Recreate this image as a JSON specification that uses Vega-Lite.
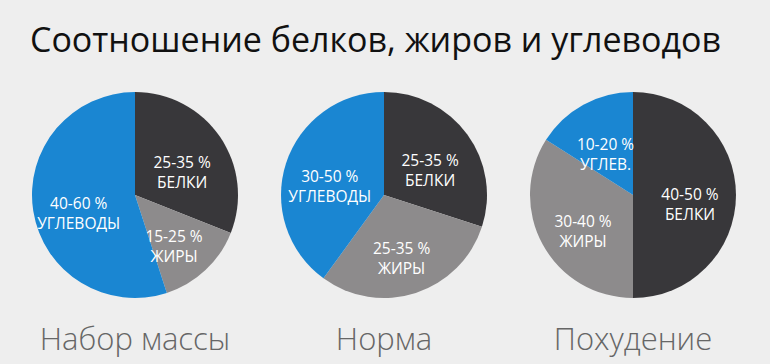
{
  "$schema": "https://vega.github.io/schema/vega-lite/v6.json",
  "background": "#eeeeee",
  "padding": {"left": 20, "top": 25, "right": 22, "bottom": 8},
  "title": {
    "text": "Соотношение белков, жиров и углеводов",
    "anchor": "start",
    "dx": 10,
    "font": "Open Sans",
    "fontSize": 34,
    "fontWeight": "normal",
    "color": "#111111",
    "offset": 33
  },
  "data": {
    "values": [
      {"group": "Набор массы", "nutrient": "Белки", "k": 1, "value": 31, "label": ["25-35 %", "БЕЛКИ"]},
      {"group": "Набор массы", "nutrient": "Жиры", "k": 2, "value": 14, "label": ["15-25 %", "ЖИРЫ"]},
      {"group": "Набор массы", "nutrient": "Углеводы", "k": 3, "value": 55, "label": ["40-60 %", "УГЛЕВОДЫ"]},
      {"group": "Норма", "nutrient": "Белки", "k": 1, "value": 30, "label": ["25-35 %", "БЕЛКИ"]},
      {"group": "Норма", "nutrient": "Жиры", "k": 2, "value": 30, "label": ["25-35 %", "ЖИРЫ"]},
      {"group": "Норма", "nutrient": "Углеводы", "k": 3, "value": 40, "label": ["30-50 %", "УГЛЕВОДЫ"]},
      {"group": "Похудение", "nutrient": "Белки", "k": 1, "value": 50, "label": ["40-50 %", "БЕЛКИ"]},
      {"group": "Похудение", "nutrient": "Жиры", "k": 2, "value": 34, "label": ["30-40 %", "ЖИРЫ"]},
      {"group": "Похудение", "nutrient": "Углеводы", "k": 3, "value": 16, "label": ["10-20 %", "УГЛЕВ."]}
    ]
  },
  "facet": {
    "column": {
      "field": "group",
      "type": "nominal",
      "sort": ["Набор массы", "Норма", "Похудение"],
      "header": {
        "title": null,
        "labelOrient": "bottom",
        "labelFont": "Open Sans",
        "labelFontSize": 31,
        "labelFontWeight": 300,
        "labelColor": "#666666",
        "labelPadding": 28
      }
    }
  },
  "spacing": 19,
  "spec": {
    "width": 230,
    "height": 206,
    "layer": [
      {
        "mark": {"type": "arc", "outerRadius": 103, "stroke": null},
        "encoding": {
          "theta": {"field": "value", "type": "quantitative", "stack": true},
          "order": {"field": "k", "type": "quantitative"},
          "color": {
            "field": "nutrient",
            "type": "nominal",
            "scale": {"domain": ["Белки", "Жиры", "Углеводы"], "range": ["#38373a", "#8d8b8c", "#1a86d2"]},
            "legend": null
          }
        }
      },
      {
        "mark": {"type": "text", "radius": 57, "font": "Open Sans", "fontSize": 15.5, "color": "white", "lineHeight": 20, "baseline": "middle"},
        "encoding": {
          "theta": {"field": "value", "type": "quantitative", "stack": true},
          "order": {"field": "k", "type": "quantitative"},
          "text": {"field": "label"}
        }
      }
    ]
  },
  "config": {"view": {"stroke": null}}
}
